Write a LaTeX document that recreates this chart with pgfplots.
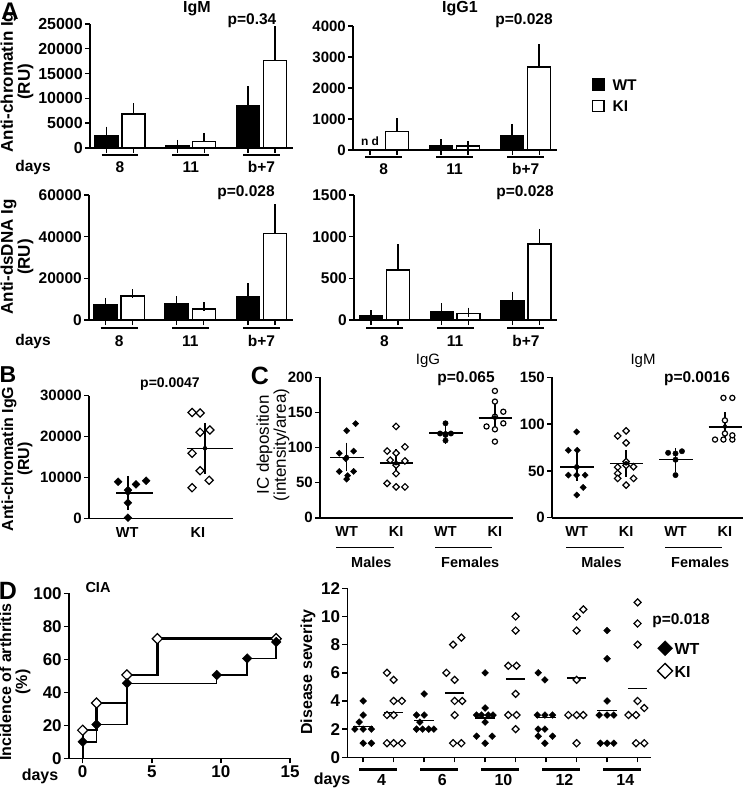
\documentclass[border=0pt]{standalone}
\usepackage{fontspec}
\setmainfont{Liberation Sans}
\usepackage{pgfplots}
\pgfplotsset{compat=1.18}
\newcommand{\fz}[1]{\fontsize{#1}{#1}\selectfont\bfseries}
\newcommand{\fr}[1]{\fontsize{#1}{#1}\selectfont}
\pgfplotsset{
  panel/.style={
    scale only axis, anchor=south west, clip=false,
    axis lines*=left, axis line style={line width=1.6pt,-},
    tick style={line width=1.4pt, black},
    tick align=outside, major tick length=5pt,
    /pgf/number format/assume math mode=true,
    /pgf/number format/1000 sep={},
    scaled y ticks=false,
    yticklabel style={font=\fz{#1}, inner sep=2pt},
    xticklabel style={font=\fz{#1}, inner sep=2.5pt},
    ymin=0,
  },
  panel/.default=15.5,
  wtbar/.style={forget plot, ybar, bar width=0.325, bar shift=0pt, fill=black, draw=black, line width=1.4pt,
     error bars/.cd, y dir=plus, y explicit, error bar style={line width=1.5pt, black}, error mark options={line width=1.5pt, black, mark size=4.5pt}},
  kibar/.style={forget plot, ybar, bar width=0.325, bar shift=0pt, fill=white, draw=black, line width=1.4pt,
     error bars/.cd, y dir=plus, y explicit, error bar style={line width=1.5pt, black}, error mark options={line width=1.5pt, black, mark size=4.5pt}},
  wtdia/.style={forget plot, only marks, mark=square*, mark size=#1, mark options={rotate=45, fill=black, draw=black, line width=0.4pt}},
  kidia/.style={forget plot, only marks, mark=square*, mark size=#1, mark options={rotate=45, fill=white, draw=black, line width=1.2pt}},
  wtcir/.style={forget plot, only marks, mark=*, mark size=#1, mark options={fill=black, draw=black}},
  kicir/.style={forget plot, only marks, mark=*, mark size=#1, mark options={fill=white, draw=black, line width=1.2pt}},
  meanl/.style={forget plot, black, line width=#1, no marks},
  meanl/.default=1.6pt,
  sem/.style={forget plot, black, only marks, mark=none, error bars/.cd, y dir=both, y explicit, error bar style={line width=1.6pt, black}, error mark options={line width=1.6pt, black, mark size=#1}},
}
\newcommand{\abrack}[2]{%
  \draw[line width=1.2pt] ([yshift=-#1pt]axis cs:-0.26,0) -- ([yshift=-#1pt]axis cs:0.26,0);
  \draw[line width=1.2pt] ([yshift=-#1pt]axis cs:0.74,0) -- ([yshift=-#1pt]axis cs:1.26,0);
  \draw[line width=1.2pt] ([yshift=-#1pt]axis cs:1.74,0) -- ([yshift=-#1pt]axis cs:2.26,0);
  \node[font=\fz{15.5}] at ([yshift=-#2pt]axis cs:0,0) {8};
  \node[font=\fz{15.5}] at ([yshift=-#2pt]axis cs:1,0) {11};
  \node[font=\fz{15.5}] at ([yshift=-#2pt]axis cs:2,0) {b+7};
}
\newcommand{\cgroups}{%
  \node[font=\fz{14.5}] at ([yshift=-14pt]axis cs:0,0) {WT};
  \node[font=\fz{14.5}] at ([yshift=-14pt]axis cs:1,0) {KI};
  \node[font=\fz{14.5}] at ([yshift=-14pt]axis cs:2,0) {WT};
  \node[font=\fz{14.5}] at ([yshift=-14pt]axis cs:3,0) {KI};
  \draw[line width=1.2pt] ([yshift=-30pt]axis cs:-0.21,0) -- ([yshift=-30pt]axis cs:0.95,0);
  \draw[line width=1.2pt] ([yshift=-30pt]axis cs:1.79,0) -- ([yshift=-30pt]axis cs:2.95,0);
  \node[font=\fz{14.5}] at ([yshift=-45pt]axis cs:0.5,0) {Males};
  \node[font=\fz{14.5}] at ([yshift=-45pt]axis cs:2.5,0) {Females};
}
\newcommand{\dgroup}[2]{%
  \draw[line width=3pt] ([yshift=-12pt]axis cs:#1-0.13,0) -- ([yshift=-12pt]axis cs:#1+1.1,0);
  \node[font=\fz{16}] at ([yshift=-23pt]axis cs:#1+0.6,0) {#2};
}
\begin{document}
\begin{tikzpicture}[x=1pt,y=1pt]
\useasboundingbox (0,0) rectangle (749,-791);

% ---------------- Panel A ----------------
\node[font=\fz{24}] at (10,-11) {A};
\node[font=\fz{16}] at (197,-9) {IgM};
\node[font=\fz{16}] at (460,-9) {IgG1};
\node[font=\fz{15.5}] at (252,-21) {p=0.34};
\node[font=\fz{15.5}] at (524,-21) {p=0.028};
\node[font=\fz{15.5}] at (246,-193) {p=0.028};
\node[font=\fz{15.5}] at (525,-193) {p=0.028};
\node[font=\fz{17}, rotate=90, align=center] at (17,-82) {Anti-chromatin Ig\\(RU)};
\node[font=\fz{17}, rotate=90, align=center] at (17,-257) {Anti-dsDNA Ig\\(RU)};
\node[font=\fz{15.5}] at (33,-167) {days};
\node[font=\fz{15.5}] at (33,-341) {days};
\node[font=\fz{12}] at (370,-141) {n d};

\begin{axis}[panel=16, at={(90pt,-148pt)}, width=203pt, height=124pt,
  xmin=-0.424, xmax=2.445, ymax=25000, ytick={0,5000,...,25000},
  xtick={-0.19,0.19,0.81,1.19,1.81,2.19}, xticklabels={}]
\addplot[wtbar] coordinates {(-0.19,2500) +- (0,900) (0.81,550) +- (0,200) (1.81,8470) +- (0,3030)};
\addplot[kibar] coordinates {(0.19,6850) +- (0,1250) (1.19,1270) +- (0,880) (2.19,17680) +- (0,5970)};
\abrack{7}{19}
\end{axis}

\begin{axis}[panel=15, at={(353pt,-150pt)}, width=204pt, height=124pt,
  xmin=-0.43, xmax=2.44, ymax=4000, ytick={0,1000,...,4000},
  xtick={-0.19,0.19,0.81,1.19,1.81,2.19}, xticklabels={},
  legend style={at={(axis description cs:1.17,0.43)}, anchor=west, draw=none, fill=none, font=\fz{15.5}, row sep=5pt, inner sep=0pt},
  legend cell align=left,
  legend image code/.code={\draw[#1, line width=1.2pt] (0pt,-4.5pt) rectangle (11.5pt,7pt);}]
\addplot[wtbar] coordinates {(0.81,140) +- (0,55) (1.81,470) +- (0,230)};
\addplot[kibar] coordinates {(0.19,590) +- (0,290) (1.19,130) +- (0,20) (2.19,2680) +- (0,590)};
\abrack{7}{19}
\addlegendimage{fill=black, draw=black}\addlegendentry{\hspace{6pt}WT}
\addlegendimage{fill=white, draw=black}\addlegendentry{\hspace{6pt}KI}
\end{axis}

\begin{axis}[panel=15.5, at={(89pt,-320pt)}, width=204pt, height=125pt,
  xmin=-0.424, xmax=2.445, ymax=60000, ytick={0,20000,40000,60000},
  xtick={-0.19,0.19,0.81,1.19,1.81,2.19}, xticklabels={}]
\addplot[wtbar] coordinates {(-0.19,7350) +- (0,1150) (0.81,8000) +- (0,1300) (1.81,11000) +- (0,4500)};
\addplot[kibar] coordinates {(0.19,11500) +- (0,1100) (1.19,5300) +- (0,1100) (2.19,41600) +- (0,11800)};
\abrack{8}{21}
\end{axis}

\begin{axis}[panel=15.5, at={(354pt,-320pt)}, width=203pt, height=125pt,
  xmin=-0.43, xmax=2.44, ymax=1500, ytick={0,500,1000,1500},
  xtick={-0.19,0.19,0.81,1.19,1.81,2.19}, xticklabels={}]
\addplot[wtbar] coordinates {(-0.19,50) +- (0,15) (0.81,100) +- (0,48) (1.81,228) +- (0,60)};
\addplot[kibar] coordinates {(0.19,600) +- (0,256) (1.19,80) +- (0,16) (2.19,912) +- (0,128)};
\abrack{8}{21}
\end{axis}

% ---------------- Panel B ----------------
\node[font=\fz{23}] at (8,-375) {B};
\node[font=\fz{14}] at (170,-384) {p=0.0047};
\node[font=\fz{16}, rotate=90, align=center] at (17,-459) {Anti-chromatin IgG\\(RU)};
\begin{axis}[panel=15, at={(89pt,-518.3pt)}, width=144pt, height=122.6pt,
  xmin=-0.586, xmax=1.47, ymax=30000, ytick={0,10000,20000,30000}, xtick=\empty]
\addplot[wtdia=2.8pt] coordinates {(-0.17,8950) (0.086,8300) (0.23,9200) (-0.03,6900) (-0.03,3800) (-0.03,150)};
\addplot[kidia=2.9pt] coordinates {(0.886,25900) (1,25760) (1,21040) (1.14,21600) (0.886,15900) (1,11650) (0.886,7500) (1.13,9300)};
\addplot[meanl=1.2pt] coordinates {(-0.2,6200) (0.33,6200)};
\addplot[meanl=1.2pt] coordinates {(0.81,17130) (1.47,17130)};
\addplot[sem=11pt] coordinates {(-0.03,6200) +- (0,1520)};
\addplot[sem=15pt] coordinates {(1.07,17130) +- (0,2570)};
\node[font=\fz{14.5}] at ([yshift=-14pt]axis cs:-0.04,0) {WT};
\node[font=\fz{14.5}] at ([yshift=-14pt]axis cs:0.97,0) {KI};
\end{axis}

% ---------------- Panel C ----------------
\node[font=\fz{25}] at (260,-376) {C};
\node[font=\fr{15}] at (428,-361) {IgG};
\node[font=\fz{15.5}] at (466,-379) {p=0.065};
\node[font=\fr{15}] at (643,-361) {IgM};
\node[font=\fz{15.5}] at (697,-379) {p=0.0016};
\node[font=\fr{17}, rotate=90, align=center] at (273,-445) {IC deposition\\(intensity/area)};

\begin{axis}[panel=15, at={(320pt,-517.8pt)}, width=193.2pt, height=140.5pt,
  xmin=-0.54, xmax=3.37, ymax=200, ytick={0,50,...,200}, xtick=\empty]
\addplot[wtdia=2.2pt] coordinates {(0.18,134) (0,124) (-0.15,92) (0.14,95) (-0.02,84) (-0.15,66) (0.14,66) (0.02,60) (0,55)};
\addplot[kidia=2.3pt] coordinates {(1,130) (1.18,101) (0.82,95) (1,92) (0.88,82) (1.18,81) (1,75) (1,63) (0.82,49) (1,44) (1.18,44)};
\addplot[wtcir=2.7pt] coordinates {(2,134.5) (1.89,120) (2.11,120) (2,118) (2,110)};
\addplot[kicir=2.6pt] coordinates {(3,180.6) (3,165.5) (3.17,151) (3,144) (2.83,130) (3.17,134.5) (3,126) (3,108.5)};
\addplot[meanl] coordinates {(-0.33,86) (0.35,86)};
\addplot[meanl] coordinates {(0.67,77.6) (1.35,77.6)};
\addplot[meanl] coordinates {(1.67,120.3) (2.35,120.3)};
\addplot[meanl] coordinates {(2.67,141.7) (3.35,141.7)};
\addplot[sem=8pt] coordinates {(0,86.6) +- (0,9) (1,77.8) +- (0,8.3) (2,120.3) +- (0,3.3) (3,142.8) +- (0,8.2)};
\cgroups
\end{axis}

\begin{axis}[panel=15, at={(552pt,-517.7pt)}, width=191.2pt, height=140.4pt,
  xmin=-0.5, xmax=3.37, ymax=150, ytick={0,50,100,150}, xtick=\empty]
\addplot[wtdia=2.2pt] coordinates {(0,91.7) (-0.17,72) (0.01,72) (0,54) (-0.17,45.5) (0,45.5) (0.17,45.5) (0.13,32.3) (0,24.2)};
\addplot[kidia=2.3pt] coordinates {(1,92.7) (0.83,87.4) (1,80) (1,60) (1,56) (0.83,54) (1.15,54.4) (0.83,47.3) (1.15,42) (0.83,42) (1,34.8)};
\addplot[wtcir=2.7pt] coordinates {(1.85,69.3) (2.13,71) (2,68.6) (2,62) (2,45.5)};
\addplot[kicir=2.6pt] coordinates {(2.97,128) (3.15,128) (3,104) (2.8,83.5) (2.97,83.5) (3.15,83.5) (3,90) (3.15,88)};
\addplot[meanl] coordinates {(-0.33,54.4) (0.35,54.4)};
\addplot[meanl] coordinates {(0.67,57.9) (1.35,57.9)};
\addplot[meanl] coordinates {(1.67,62.2) (2.35,62.2)};
\addplot[meanl] coordinates {(2.67,97) (3.35,97)};
\addplot[sem=8pt] coordinates {(0,54.75) +- (0,6.75) (1,58.1) +- (0,5.9) (2,61.5) +- (0,4.3) (3,97.4) +- (0,6.8)};
\cgroups
\end{axis}

% ---------------- Panel D ----------------
\node[font=\fz{25}] at (8,-591) {D};
\node[font=\fz{14.5}] at (98,-588) {CIA};
\node[font=\fz{16}, rotate=90, align=center] at (15,-682) {Incidence of arthritis\\(\%)};
\node[font=\fz{16}] at (40,-776) {days};
\begin{axis}[panel=17, at={(68.9pt,-758.3pt)}, width=221.1pt, height=165pt,
  xmin=-1, xmax=15, ymax=100, ytick={0,20,...,100}, xtick={0,5,10,15}]
\addplot[forget plot, black, line width=2.4pt, const plot mark left, no marks] coordinates {(0,0) (0,17) (1,33.5) (3.2,50.5) (5.4,72.5) (14,72.5)};
\addplot[forget plot, black, line width=1.4pt, const plot mark left, no marks] coordinates {(0,0) (0,10) (1,20.5) (3.2,45.5) (9.7,50.5) (11.9,60.5) (14,70.5)};
\addplot[kidia=3.6pt] coordinates {(0,17) (1,33.5) (3.2,50.5) (5.4,72.5) (14,72.5)};
\addplot[wtdia=3.4pt] coordinates {(0,10) (1,20.5) (3.2,45.5) (9.7,50.5) (11.9,60.5) (14,70.5)};
\end{axis}

\node[font=\fz{16}, rotate=90] at (308,-672) {Disease severity};
\node[font=\fz{16}] at (332,-780) {days};
\node[font=\fz{15.5}] at (681,-621) {p=0.018};
\begin{axis}[panel=17, at={(347.3pt,-757.3pt)}, width=304pt, height=169pt,
  xmin=-0.52, xmax=9.45, ymax=12, ytick={0,2,...,12}, xtick={0,...,9}, xticklabels={},
  legend style={at={(axis description cs:1.02,0.57)}, anchor=west, draw=none, fill=none, font=\fz{16}, row sep=5pt, inner sep=0pt},
  legend cell align=left,
  legend image code/.code={\draw[#1] plot coordinates {(6pt,2pt)};}]
\addplot[wtdia=2.4pt] coordinates {(0,4) (0,3) (-0.13,2.5) (-0.27,2) (0,2) (0.27,2) (0,1) (0.27,1)
  (2,4.5) (1.75,3) (2,3) (1.86,2.5) (1.75,2) (1.95,2) (2.15,2) (2.32,2)
  (4,6) (4,3.5) (3.72,3) (3.88,3) (4.1,3) (4.26,3) (4,2.5) (3.72,1.5) (4.23,1.5) (4,1)
  (5.74,6) (5.96,5.5) (5.71,3) (5.96,3) (6.21,3) (5.74,2) (5.96,2) (5.74,1.5) (6.21,1.5) (5.96,1)
  (8,9) (8,7) (8,4) (7.74,3) (8,3) (8.22,3) (7.78,1) (8,1) (8.22,1)};
\addplot[kidia=2.5pt] coordinates {(0.78,6) (1,5.5) (1,4) (1.27,4) (0.78,3) (1,3) (0.78,1) (1,1) (1.27,1)
  (2.95,8) (3.22,8.5) (2.73,6) (3,5.5) (3,4) (3.25,4) (3,3) (2.95,1) (3.22,1)
  (5,10) (5,9) (4.76,6.5) (5.03,6.5) (5,4.5) (4.76,3) (5.03,3) (5,2)
  (7,10) (7.22,10.5) (7,9) (7,5.5) (6.73,3) (7,3) (7.22,3) (7,1)
  (9,11) (9,9.5) (9,8) (9,4) (9.22,3.5) (8.7,3) (8.95,3) (8.95,1) (9.22,1)};
\addplot[forget plot, black, line width=1.3pt, no marks, unbounded coords=jump] coordinates {
  (-0.32,2.19) (0.32,2.19) (nan,nan) (0.68,3.17) (1.32,3.17) (nan,nan)
  (1.68,2.63) (2.32,2.63) (nan,nan) (2.68,4.56) (3.32,4.56) (nan,nan)
  (3.68,2.8) (4.32,2.8) (nan,nan) (4.68,5.56) (5.32,5.56) (nan,nan)
  (5.68,2.85) (6.32,2.85) (nan,nan) (6.68,5.63) (7.32,5.63) (nan,nan)
  (7.68,3.3) (8.32,3.3) (nan,nan) (8.68,4.89) (9.32,4.89)};
\dgroup{0}{4}
\dgroup{2}{6}
\dgroup{4}{10}
\dgroup{6}{12}
\dgroup{8}{14}
\addlegendimage{only marks, mark=square*, mark size=5.3pt, mark options={rotate=45, fill=black, draw=black}}\addlegendentry{WT}
\addlegendimage{only marks, mark=square*, mark size=5.3pt, mark options={rotate=45, fill=white, draw=black, line width=1.3pt}}\addlegendentry{KI}
\end{axis}
\end{tikzpicture}
\end{document}
